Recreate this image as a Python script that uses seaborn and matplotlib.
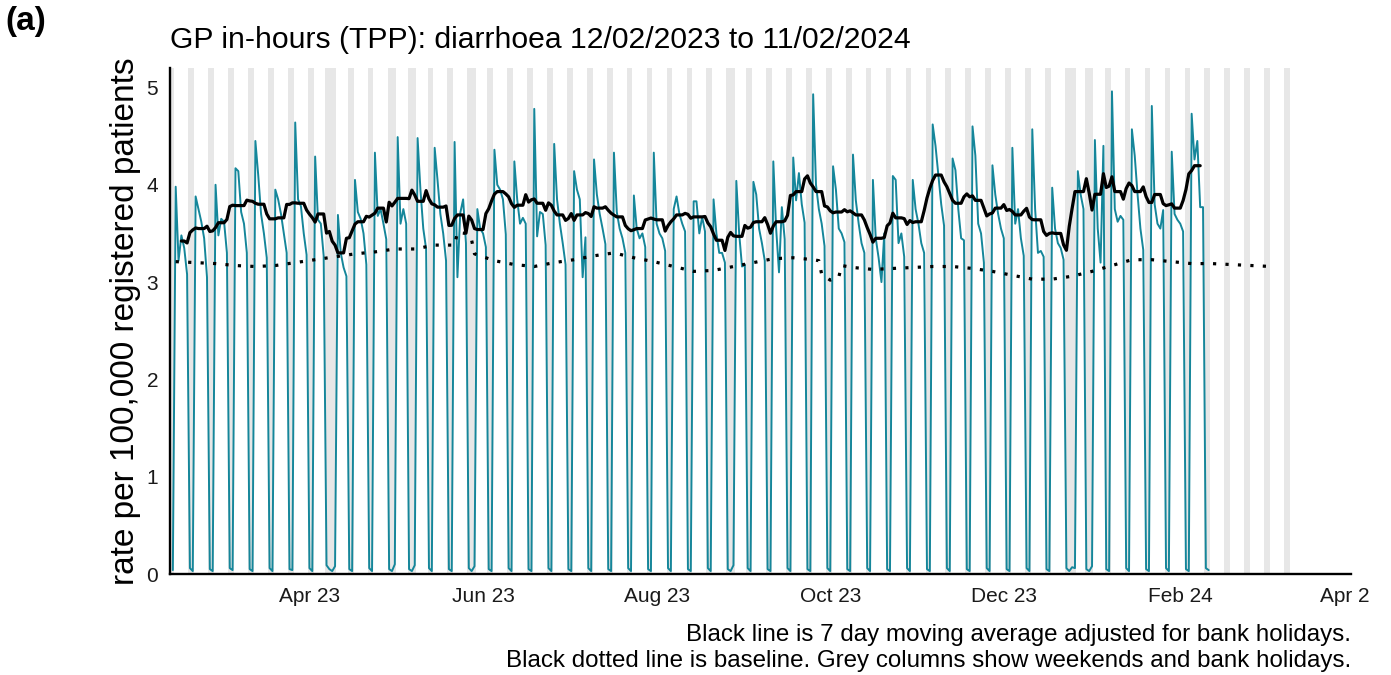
import numpy as np
import pandas as pd
import matplotlib
matplotlib.use("Agg")
import matplotlib.pyplot as plt
import matplotlib.dates as mdates
from matplotlib.transforms import Bbox
import seaborn as sns

# Daily diarrhoea consultation rate per 100,000 registered patients (TPP, GP in-hours)
feb_2023 = [0.04, 3.98, 3.22, 3.48, 3.35, 3.08, 0.06, 0.03, 3.88, 3.75, 3.62, 3.45, 3.05, 0.05, 0.03,
            4.00, 3.48]
mar_2023 = [3.65, 3.62, 3.30, 0.06, 0.04, 4.17, 4.14, 3.72, 3.60, 3.30, 0.05, 0.03, 4.45, 4.10, 3.70,
            3.50, 3.25, 0.06, 0.03, 3.95, 3.85, 3.70, 3.50, 3.30, 0.05, 0.04, 4.64, 3.85, 3.78, 3.50, 3.28]
apr_2023 = [0.06, 0.03, 4.29, 3.64, 3.60, 3.27, 0.09, 0.05, 0.03, 0.08, 3.69, 3.30, 3.15, 3.06, 0.05,
            0.03, 4.05, 3.72, 3.65, 3.50, 3.18, 0.06, 0.03, 4.33, 3.68, 3.75, 3.60, 3.44, 0.05, 0.03]
may_2023 = [0.10, 4.49, 3.60, 3.75, 3.60, 0.05, 0.03, 0.09, 4.48, 3.95, 3.55, 3.34, 0.06, 0.03, 4.38,
            4.05, 3.70, 3.50, 3.22, 0.05, 0.03, 4.44, 3.05, 3.71, 3.85, 3.40, 0.06, 0.03, 0.08, 3.75, 3.55]
jun_2023 = [3.50, 3.36, 0.05, 0.03, 4.36, 4.00, 3.95, 3.85, 3.49, 0.06, 0.03, 4.24, 3.85, 3.60, 3.66,
            3.60, 0.05, 0.03, 4.78, 3.47, 3.72, 3.70, 3.38, 0.06, 0.03, 4.42, 3.85, 3.60, 3.40, 3.18]
jul_2023 = [0.05, 0.03, 4.14, 3.95, 3.85, 3.05, 3.46, 0.06, 0.03, 4.26, 3.90, 3.70, 3.55, 3.39, 0.05,
            0.03, 4.33, 3.72, 3.55, 3.45, 3.30, 0.06, 0.03, 3.89, 3.55, 3.45, 3.50, 3.36, 0.05, 0.03, 4.33]
aug_2023 = [3.60, 3.50, 3.45, 3.32, 0.06, 0.03, 3.75, 3.88, 3.70, 3.60, 3.52, 0.05, 0.03, 3.83, 3.83,
            3.50, 3.67, 3.52, 0.06, 0.03, 3.85, 3.50, 3.30, 3.30, 3.20, 0.05, 0.03, 0.09, 4.04, 3.50, 3.16]
sep_2023 = [3.18, 0.06, 0.03, 4.03, 3.90, 3.55, 3.40, 3.22, 0.05, 0.03, 4.24, 3.55, 3.10, 3.77, 3.44,
            0.06, 0.03, 4.28, 3.84, 4.12, 3.80, 3.61, 0.05, 0.03, 4.93, 4.00, 3.75, 3.60, 3.37, 0.06]
oct_2023 = [0.03, 4.19, 3.95, 3.55, 3.50, 3.41, 0.05, 0.03, 4.31, 3.84, 3.60, 3.40, 3.30, 0.06, 0.03,
            4.05, 3.45, 3.25, 3.00, 3.50, 0.05, 0.03, 4.09, 4.05, 3.40, 3.50, 3.26, 0.06, 0.03, 4.05, 3.75]
nov_2023 = [3.60, 3.40, 3.30, 0.05, 0.03, 4.62, 4.40, 4.10, 3.80, 3.58, 0.06, 0.03, 4.27, 4.15, 3.75,
            3.45, 3.43, 0.05, 0.03, 4.60, 4.30, 3.60, 3.50, 3.20, 0.06, 0.03, 4.20, 3.90, 3.70, 3.55]
dec_2023 = [3.45, 0.05, 0.03, 4.38, 3.60, 3.75, 3.45, 3.27, 0.06, 0.03, 4.57, 3.75, 3.30, 3.32, 3.26,
            0.05, 0.03, 3.97, 3.55, 3.40, 3.35, 3.23, 0.06, 0.03, 0.07, 0.06, 4.14, 3.90, 3.75, 0.05, 0.03]
jan_2024 = [0.08, 4.46, 3.55, 3.20, 4.40, 0.05, 0.03, 4.96, 3.75, 3.62, 3.68, 3.64, 0.06, 0.03, 4.57,
            4.30, 3.90, 3.55, 3.33, 0.05, 0.03, 4.81, 3.80, 3.60, 3.55, 3.74, 0.06, 0.03, 4.34, 3.70, 3.64]
feb_2024 = [3.60, 3.52, 0.05, 0.03, 4.73, 4.26, 4.45, 3.77, 3.77, 0.06, 0.04]

first_day = "2023-02-12"
shade_until = "2024-03-10"

bank_holidays = ["2023-04-07", "2023-04-10", "2023-05-01", "2023-05-08", "2023-05-29",
                 "2023-08-28", "2023-12-25", "2023-12-26", "2024-01-01"]

# Modelled baseline
baseline_dates = ["2023-02-13", "2023-02-20", "2023-02-27", "2023-03-06", "2023-03-13", "2023-03-20",
                  "2023-03-27", "2023-04-03", "2023-04-10", "2023-04-17", "2023-04-24", "2023-05-01",
                  "2023-05-08", "2023-05-15", "2023-05-22", "2023-05-23", "2023-05-26", "2023-05-28",
                  "2023-05-29", "2023-06-05", "2023-06-12", "2023-06-19", "2023-06-26", "2023-07-03",
                  "2023-07-10", "2023-07-17", "2023-07-24", "2023-07-31", "2023-08-07", "2023-08-14",
                  "2023-08-21", "2023-08-28", "2023-09-04", "2023-09-11", "2023-09-18", "2023-09-25",
                  "2023-09-27", "2023-09-28", "2023-10-01", "2023-10-04", "2023-10-05", "2023-10-09",
                  "2023-10-16", "2023-10-23", "2023-10-30", "2023-11-06", "2023-11-13", "2023-11-20",
                  "2023-11-27", "2023-12-04", "2023-12-11", "2023-12-18", "2023-12-25", "2024-01-01",
                  "2024-01-08", "2024-01-15", "2024-01-22", "2024-01-29", "2024-02-05", "2024-02-12",
                  "2024-02-19", "2024-02-26", "2024-03-04"]
baseline_values = [3.21, 3.20, 3.19, 3.17, 3.16, 3.17,
                   3.20, 3.23, 3.26, 3.29, 3.31, 3.34,
                   3.34, 3.38, 3.38, 3.51, 3.50, 3.43,
                   3.29, 3.22, 3.18, 3.16, 3.20, 3.23,
                   3.27, 3.30, 3.25, 3.21, 3.16, 3.11,
                   3.12, 3.16, 3.20, 3.24, 3.25, 3.23,
                   3.22, 3.08, 3.02, 3.05, 3.17, 3.15,
                   3.13, 3.14, 3.15, 3.16, 3.16, 3.14,
                   3.11, 3.07, 3.03, 3.03, 3.06, 3.11,
                   3.17, 3.23, 3.23, 3.21, 3.19, 3.19,
                   3.18, 3.17, 3.16]

tick_months = ["2023-04-01", "2023-06-01", "2023-08-01", "2023-10-01", "2023-12-01", "2024-02-01",
               "2024-04-01"]

title_text = "GP in-hours (TPP): diarrhoea 12/02/2023 to 11/02/2024"
y_label = "rate per 100,000 registered patients"
caption_lines = ["Black line is 7 day moving average adjusted for bank holidays.",
                 "Black dotted line is baseline. Grey columns show weekends and bank holidays."]
panel_tag = "(a)"

TEAL = "#15869A"
SHADE = "#E7E7E7"

sns.set_theme(style="white")
plt.rcParams["font.family"] = ["Liberation Sans", "DejaVu Sans"]

# ---- data frames -------------------------------------------------------
rates = (feb_2023 + mar_2023 + apr_2023 + may_2023 + jun_2023 + jul_2023 + aug_2023 +
         sep_2023 + oct_2023 + nov_2023 + dec_2023 + jan_2024 + feb_2024)
df = pd.DataFrame({"date": pd.date_range(first_day, periods=len(rates), freq="D"),
                   "rate": rates})
holidays = pd.to_datetime(bank_holidays)

# 7-day centred moving average over working days only (weekends and bank holidays excluded)
working = (df["date"].dt.dayofweek < 5) & ~df["date"].isin(holidays)
df["ma"] = df["rate"].where(working).rolling(7, center=True, min_periods=1).mean()
df.loc[:2, "ma"] = np.nan
df.loc[len(df) - 3:, "ma"] = np.nan
ma_df = df.dropna(subset=["ma"])

base_df = pd.DataFrame({"date": pd.to_datetime(baseline_dates), "baseline": baseline_values})

shade_days = pd.date_range(first_day, shade_until, freq="D")
shade_days = shade_days[(shade_days.dayofweek >= 5) | shade_days.isin(holidays)]

# ---- figure --------------------------------------------------------------
W, H = 1391, 675
fig = plt.figure(figsize=(W / 100, H / 100), dpi=100)
ax_l, ax_r, ax_t, ax_b = 170, 1351, 68, 574
ax = fig.add_axes([ax_l / W, 1 - ax_b / H, (ax_r - ax_l) / W, (ax_b - ax_t) / H])

y_top = 5.2
ax.bar(shade_days, y_top, width=1.0, color=SHADE, linewidth=0, zorder=0)

sns.lineplot(data=df, x="date", y="rate", color=TEAL, linewidth=1.4, estimator=None,
             ax=ax, zorder=2)
sns.lineplot(data=base_df, x="date", y="baseline", color="black", linewidth=2.3,
             linestyle=(0, (1.0, 2.9)), estimator=None, ax=ax, zorder=3)
sns.lineplot(data=ma_df, x="date", y="ma", color="black", linewidth=2.3, estimator=None,
             ax=ax, zorder=4)

ax.set_xlim(pd.Timestamp("2023-02-11"), pd.Timestamp("2024-04-01"))
ax.set_ylim(0, y_top)
ax.set_yticks([0, 1, 2, 3, 4, 5])
ax.set_xticks(pd.to_datetime(tick_months))
ax.xaxis.set_major_formatter(mdates.DateFormatter("%b %y"))
ax.set_xlabel("")
ax.set_ylabel("")

sns.despine(ax=ax)
for side in ("left", "bottom"):
    ax.spines[side].set_linewidth(1.7)
    ax.spines[side].set_color("black")
ax.tick_params(axis="both", which="major", direction="out", length=4.5, width=1.1,
               color="#333333", labelsize=15, labelcolor="#1a1a1a", pad=5)
ax.tick_params(axis="y", pad=4)

# the last month label runs past the right edge of the printed panel
clip = Bbox.from_extents(0, 0, 1370, H)
for lab in ax.get_xticklabels():
    lab.set_clip_box(clip)
    lab.set_clip_on(True)

fig.text(ax_l / W, 1 - 48 / H, title_text, fontsize=21.7, ha="left", va="baseline", color="black")
fig.text(126 / W, 1 - (ax_t + ax_b) / 2 / H, y_label, fontsize=24, rotation=90,
         ha="center", va="center", color="black")
fig.text(ax_r / W, 1 - 641 / H, caption_lines[0], fontsize=17.4, ha="right", va="baseline",
         color="black")
fig.text(ax_r / W, 1 - 667 / H, caption_lines[1], fontsize=17.4, ha="right", va="baseline",
         color="black")
fig.text(5 / W, 1 - 30 / H, panel_tag, fontsize=24, fontweight="bold", ha="left", va="baseline",
         color="black")

fig.savefig("out.png", dpi=100, facecolor="white")
